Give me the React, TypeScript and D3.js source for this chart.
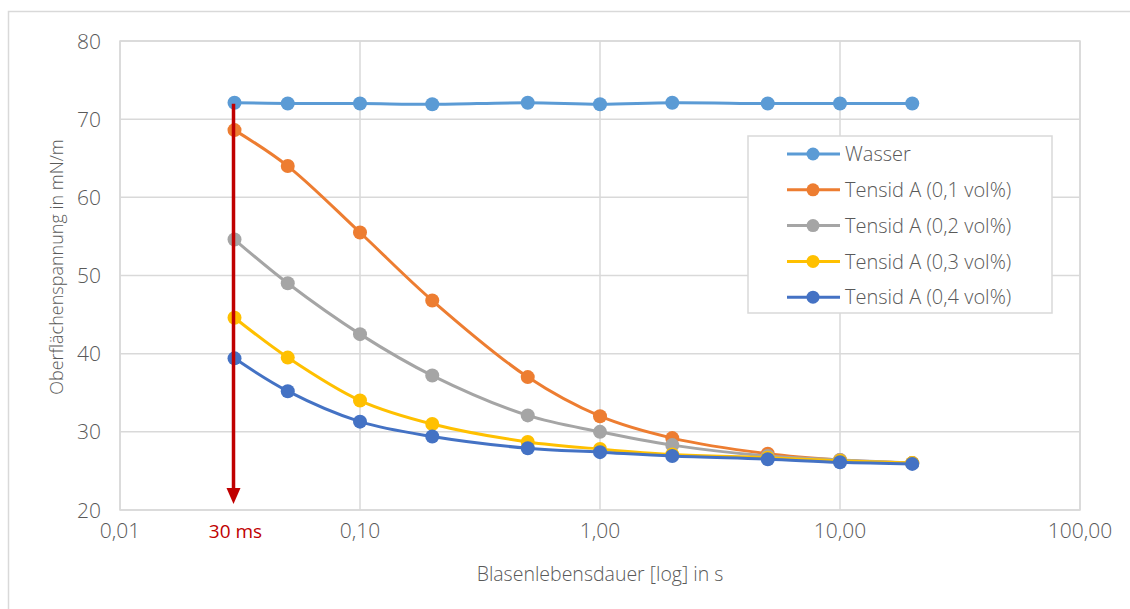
import React from "react";
import * as d3 from "d3";

const xValues = [0.03, 0.05, 0.1, 0.2, 0.5, 1, 2, 5, 10, 20];
const seriesNames = [
  "Wasser",
  "Tensid A (0,1 vol%)",
  "Tensid A (0,2 vol%)",
  "Tensid A (0,3 vol%)",
  "Tensid A (0,4 vol%)",
];
const wasser = [72.1, 72.0, 72.0, 71.9, 72.1, 71.9, 72.1, 72.0, 72.0, 72.0];
const tensid01 = [68.6, 64.0, 55.5, 46.8, 37.0, 32.0, 29.2, 27.2, 26.4, 26.0];
const tensid02 = [54.6, 49.0, 42.5, 37.2, 32.1, 30.0, 28.3, 26.9, 26.4, 26.0];
const tensid03 = [44.6, 39.5, 34.0, 31.0, 28.7, 27.8, 27.1, 26.7, 26.3, 26.0];
const tensid04 = [39.4, 35.2, 31.3, 29.4, 27.9, 27.4, 26.9, 26.5, 26.1, 25.9];
const colors = ["#5B9BD5", "#ED7D31", "#A5A5A5", "#FFC000", "#4472C4"];
const xTicks = [0.01, 0.1, 1, 10, 100];
const xTickLabels = ["0,01", "0,10", "1,00", "10,00", "100,00"];
const yTicks = [20, 30, 40, 50, 60, 70, 80];
const markerX = 0.03;
const markerLabel = "30 ms";

const W = 1130;
const H = 609;
const FONT = "'Open Sans', Lato, sans-serif";
const TXT = "#595959";

export default function App() {
  const left = 120, right = 1080, top = 41, bottom = 510;
  const x = d3.scaleLog().domain([0.01, 100]).range([left, right]);
  const y = d3.scaleLinear().domain([20, 80]).range([bottom, top]);
  const all = [wasser, tensid01, tensid02, tensid03, tensid04];
  const line = d3
    .line<number>()
    .x((_, i) => x(xValues[i]))
    .y((d) => y(d))
    .curve(d3.curveCatmullRom.alpha(0.5));

  const legX = 748, legY = 136, legW = 304, legH = 177;
  const rowH = 35.8;

  return (
    <svg
      width={W}
      height={H}
      style={{ position: "absolute", left: 0, top: 0, background: "#fff" }}
      fontFamily={FONT}
      fontWeight={300}
    >
      <rect x={8.5} y={11.5} width={W + 10} height={H + 10} fill="#fff" stroke="#D9D9D9" strokeWidth={1.5} />
      {yTicks.map((t) => (
        <line key={"gy" + t} x1={left} x2={right} y1={y(t)} y2={y(t)} stroke="#D9D9D9" strokeWidth={1.5} />
      ))}
      {xTicks.map((t) => (
        <line key={"gx" + t} x1={x(t)} x2={x(t)} y1={top} y2={bottom} stroke="#D9D9D9" strokeWidth={1.5} />
      ))}
      <rect x={left} y={top} width={right - left} height={bottom - top} fill="none" stroke="#D9D9D9" strokeWidth={1.5} />
      {yTicks.map((t) => (
        <text key={"ly" + t} x={101} y={y(t)} dy="0.36em" textAnchor="end" fontSize={21} fill={TXT}>
          {t}
        </text>
      ))}
      {xTicks.map((t, i) => (
        <text key={"lx" + t} x={x(t)} y={538} textAnchor="middle" fontSize={21} fill={TXT}>
          {xTickLabels[i]}
        </text>
      ))}
      <text x={600} y={581} textAnchor="middle" fontSize={19.5} fill={TXT}>
        Blasenlebensdauer [log] in s
      </text>
      <text
        transform={`translate(63,267) rotate(-90)`}
        textAnchor="middle"
        fontSize={18}
        fill={TXT}
      >
        Oberflächenspannung in mN/m
      </text>
      {all.map((vals, si) => (
        <g key={"s" + si}>
          <path d={line(vals) || ""} fill="none" stroke={colors[si]} strokeWidth={3} strokeLinecap="round" />
          {vals.map((v, i) => (
            <circle key={i} cx={x(xValues[i])} cy={y(v)} r={7} fill={colors[si]} />
          ))}
        </g>
      ))}
      <line x1={x(markerX) - 1} x2={x(markerX) - 1} y1={y(wasser[0]) + 1} y2={bottom - 20} stroke="#C00000" strokeWidth={3.5} />
      <path
        d={`M${x(markerX) - 8},${bottom - 22} L${x(markerX) + 6},${bottom - 22} L${x(markerX) - 1},${bottom - 6} Z`}
        fill="#C00000"
      />
      <text x={x(markerX) + 1} y={538} textAnchor="middle" fontSize={19} fontWeight={400} fill="#C00000">
        {markerLabel}
      </text>
      <rect x={legX} y={legY} width={legW} height={legH} fill="#fff" stroke="#D9D9D9" strokeWidth={1.5} />
      {seriesNames.map((n, i) => {
        const cy = legY + 18 + i * rowH;
        return (
          <g key={"lg" + i}>
            <line x1={787} x2={840} y1={cy} y2={cy} stroke={colors[i]} strokeWidth={3} />
            <circle cx={813} cy={cy} r={6.5} fill={colors[i]} />
            <text x={845} y={cy} dy="0.36em" fontSize={20} fill={TXT}>
              {n}
            </text>
          </g>
        );
      })}
    </svg>
  );
}
